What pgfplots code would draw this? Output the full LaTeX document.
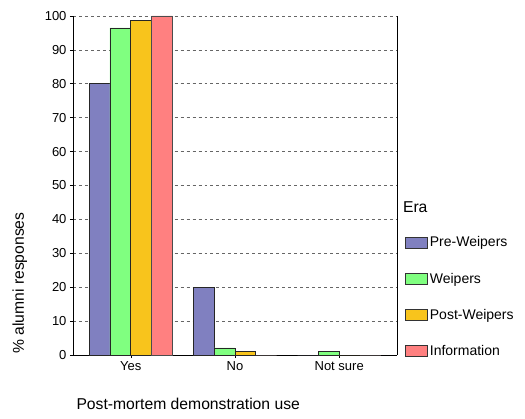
\documentclass[border=0pt]{standalone}
\usepackage{pgfplots}
\pgfplotsset{compat=1.18}
\usepackage{fontspec}
\setmainfont{Liberation Sans}

\definecolor{cpre}{RGB}{128,128,192}
\definecolor{cwei}{RGB}{128,255,128}
\definecolor{cpost}{RGB}{248,196,28}
\definecolor{cinfo}{RGB}{255,128,128}

\begin{document}
\begin{tikzpicture}
\begin{axis}[
    at={(0,0)}, anchor=south west,
    scale only axis,
    clip=false,
    width=324bp, height=339bp,
    xmin=-0.555, xmax=2.555,
    ymin=0, ymax=100,
    enlargelimits=false,
    axis x line*=bottom,
    axis y line*=left,
    axis line style={-, line width=0.8pt},
    ytick={0,10,...,100},
    xtick={0,1,2},
    xticklabels={Yes,No,Not sure},
    tick align=outside,
    ytick style={line width=0.6pt, black},
    xtick style={line width=0.6pt, black},
    major tick length=3bp,
    ymajorgrids,
    grid style={dashed, gray!80!black, line width=0.6pt},
    /pgf/number format/assume math mode=true,
    tick label style={font=\fontsize{13bp}{15bp}\selectfont},
    ylabel={\% alumni responses},
    ylabel style={at={(axis description cs:-0.164,0.212)}, anchor=center, font=\fontsize{15.7bp}{18bp}\selectfont},
    xlabel={Post-mortem demonstration use},
    xlabel style={at={(axis description cs:0,-0.145)}, anchor=west, font=\fontsize{15.7bp}{18bp}\selectfont},
    bar width=0.2,
    legend style={draw=none, fill=none, at={(axis description cs:1.025,0.355)}, anchor=north west,
        inner sep=0pt, row sep=20.5bp, font=\fontsize{14bp}{16bp}\selectfont,
        /tikz/every even column/.append style={column sep=3bp}},
    legend cell align=left,
    legend image code/.code={\draw[#1, draw=black!80, line width=0.6pt] (0bp,-5.5bp) rectangle (22bp,5.5bp);},
]
\addplot[ybar, bar shift=-0.3, fill=cpre, draw=black!85, line width=0.7pt]
    coordinates {(0,80) (1,20) (2,0)};
\addplot[ybar, bar shift=-0.1, fill=cwei, draw=black!85, line width=0.7pt]
    coordinates {(0,96.5) (1,2.1) (2,1.1)};
\addplot[ybar, bar shift=0.1, fill=cpost, draw=black!85, line width=0.7pt]
    coordinates {(0,98.8) (1,1.0) (2,0)};
\addplot[ybar, bar shift=0.3, fill=cinfo, draw=black!70, line width=0.7pt]
    coordinates {(0,100) (1,0) (2,0)};
\legend{Pre-Weipers,Weipers,Post-Weipers,Information}
\draw[line width=0.8pt] (rel axis cs:1,0) -- (rel axis cs:1,1);
\node[anchor=west, inner sep=0pt, font=\fontsize{15.7bp}{18bp}\selectfont] at (axis description cs:1.018,0.437) {Era};
\end{axis}
\pgfresetboundingbox
\path (-73bp,-64bp) rectangle (452bp,355bp);
\end{tikzpicture}
\end{document}
